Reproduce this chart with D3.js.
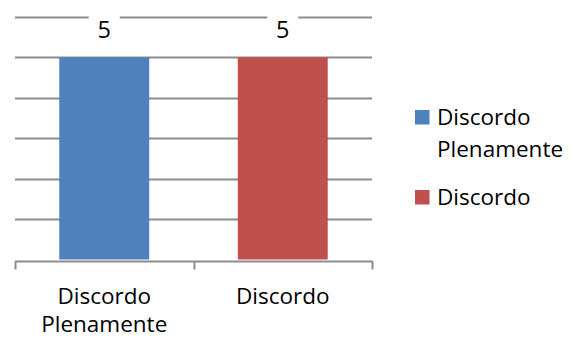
<!DOCTYPE html>
<html>
<head>
<meta charset="utf-8">
<script src="https://cdn.jsdelivr.net/npm/d3@7/dist/d3.min.js"></script>
<style>
  html, body { margin: 0; padding: 0; background: #fff; }
  svg { display: block; font-family: "Open Sans", "Liberation Sans", sans-serif; }
</style>
</head>
<body>
<svg id="chart" width="574" height="338"></svg>
<script>
// Category labels (each split over lines), values and colours
const categories = ["Discordo Plenamente", "Discordo"];
const categoryLines = [["Discordo", "Plenamente"], ["Discordo"]];
const values = [5, 5];
const colors = ["#4F81BD", "#C0504D"];
const legendLines = [["Discordo", "Plenamente"], ["Discordo"]];
const yTicks = [0, 1, 2, 3, 4, 5, 6];

const svg = d3.select("#chart");
const plot = { left: 15, right: 372, top: 17, bottom: 259.5 };

const x = d3.scaleBand()
  .domain(categories)
  .range([plot.left, plot.right])
  .paddingInner(0.496)
  .paddingOuter(0.248);

const y = d3.scaleLinear()
  .domain([0, 6])
  .range([plot.bottom, plot.top]);

const crisp = v => Math.round(v) + 0.5;

// Horizontal gridlines
svg.append("g")
  .selectAll("line")
  .data(yTicks.filter(d => d > 0))
  .join("line")
  .attr("x1", plot.left)
  .attr("x2", plot.right)
  .attr("y1", d => crisp(y(d)))
  .attr("y2", d => crisp(y(d)))
  .attr("stroke", "#8c8c8c")
  .attr("stroke-width", 2);

// Bars
svg.append("g")
  .selectAll("rect")
  .data(categories)
  .join("rect")
  .attr("x", d => x(d))
  .attr("width", x.bandwidth())
  .attr("y", (d, i) => y(values[i]))
  .attr("height", (d, i) => y(0) - y(values[i]))
  .attr("fill", (d, i) => colors[i]);

// Category axis with tick marks at category boundaries
const axisY = crisp(y(0)) + 1;
const step = x.step();
const boundaries = d3.range(categories.length + 1).map(i => plot.left + i * step);
const axis = svg.append("g");
axis.append("line")
  .attr("x1", plot.left).attr("x2", plot.right + 1)
  .attr("y1", axisY).attr("y2", axisY)
  .attr("stroke", "#8c8c8c").attr("stroke-width", 2);
axis.selectAll("line.tick")
  .data(boundaries)
  .join("line")
  .attr("class", "tick")
  .attr("x1", d => crisp(d)).attr("x2", d => crisp(d))
  .attr("y1", axisY).attr("y2", axisY + 8)
  .attr("stroke", "#8c8c8c").attr("stroke-width", 2);

// Category labels
categories.forEach((c, i) => {
  const t = svg.append("text")
    .attr("x", x(c) + x.bandwidth() / 2)
    .attr("y", 304)
    .attr("text-anchor", "middle")
    .attr("font-size", 22.5)
    .attr("fill", "#000");
  categoryLines[i].forEach((line, j) => {
    t.append("tspan")
      .attr("x", x(c) + x.bandwidth() / 2)
      .attr("dy", j === 0 ? 0 : 28)
      .text(line);
  });
});

// Value labels above bars, on a white box that breaks the gridline
categories.forEach((c, i) => {
  const cx = x(c) + x.bandwidth() / 2;
  const yTop = y(values[i]);
  svg.append("rect")
    .attr("x", cx - 15.5)
    .attr("y", yTop - 44)
    .attr("width", 31)
    .attr("height", 36)
    .attr("fill", "#fff");
  svg.append("text")
    .attr("x", cx)
    .attr("y", yTop - 19)
    .attr("text-anchor", "middle")
    .attr("font-size", 23.5)
    .attr("fill", "#000")
    .text(values[i]);
});

// Legend
const legendY = [110, 190];
const legend = svg.append("g");
legendLines.forEach((lines, i) => {
  legend.append("rect")
    .attr("x", 415)
    .attr("y", legendY[i])
    .attr("width", 14.5)
    .attr("height", 14.5)
    .attr("fill", colors[i]);
  const t = legend.append("text")
    .attr("x", 437)
    .attr("y", legendY[i] + 15)
    .attr("font-size", 22.5)
    .attr("fill", "#000");
  lines.forEach((line, j) => {
    t.append("tspan")
      .attr("x", 437)
      .attr("dy", j === 0 ? 0 : 32)
      .text(line);
  });
});
</script>
</body>
</html>
